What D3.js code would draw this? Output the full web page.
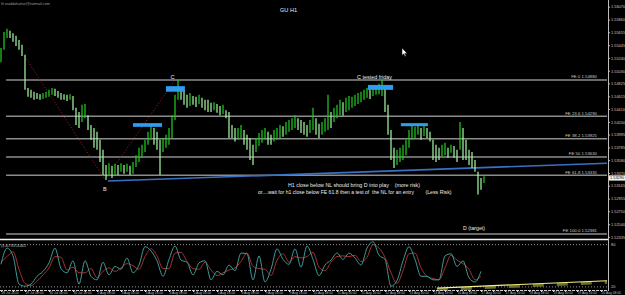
<!DOCTYPE html>
<html>
<head>
<meta charset="utf-8">
<script src="https://cdn.jsdelivr.net/npm/d3@7"></script>
<style>
  html, body { margin: 0; padding: 0; background: #000; }
  svg { display: block; }
  text { font-family: "Liberation Sans", Arial, sans-serif; }
</style>
</head>
<body>
<svg id="chart" width="625" height="295"></svg>
<script>
// GBPUSD H1 bars (high / low), one entry per bar
const highs = [
  1.5540, 1.5566, 1.5571, 1.5568, 1.5564, 1.5560, 1.5553, 1.5545, 1.5529,
  1.5475, 1.5472, 1.5469, 1.5467, 1.5465, 1.5467, 1.5469, 1.5472, 1.5475, 1.5474, 1.5470, 1.5467, 1.5465, 1.5464, 1.5465, 1.5462,
  1.5443, 1.5436, 1.5448, 1.5449, 1.5431, 1.5415, 1.5410, 1.5404, 1.5391, 1.5375, 1.5350,
  1.5353, 1.5349, 1.5352, 1.5350, 1.5353, 1.5350, 1.5352, 1.5349, 1.5355,
  1.5366, 1.5378, 1.5383, 1.5391, 1.5404, 1.5413, 1.5410, 1.5404, 1.5391, 1.5394, 1.5399,
  1.5410, 1.5431, 1.5464, 1.5488, 1.5475, 1.5472,
  1.5464, 1.5467, 1.5462, 1.5461, 1.5464, 1.5459, 1.5456, 1.5456, 1.5451, 1.5452, 1.5449, 1.5446, 1.5448, 1.5439,
  1.5436, 1.5415, 1.5410, 1.5410, 1.5415, 1.5407, 1.5399, 1.5394, 1.5383, 1.5394,
  1.5402, 1.5407, 1.5410, 1.5404, 1.5399, 1.5407, 1.5410, 1.5415, 1.5413, 1.5420, 1.5423,
  1.5426, 1.5431, 1.5426, 1.5423, 1.5420, 1.5415, 1.5423, 1.5443, 1.5426, 1.5417, 1.5420, 1.5426, 1.5464,
  1.5436, 1.5443, 1.5448, 1.5456, 1.5452, 1.5459, 1.5462, 1.5461, 1.5464, 1.5467, 1.5469,
  1.5472, 1.5475, 1.5472, 1.5478, 1.5480, 1.5482, 1.5488, 1.5475,
  1.5448, 1.5407, 1.5378, 1.5375, 1.5378, 1.5383, 1.5391, 1.5407,
  1.5415, 1.5412, 1.5418, 1.5410, 1.5413, 1.5410, 1.5404, 1.5391, 1.5383,
  1.5378, 1.5383, 1.5386, 1.5378, 1.5383, 1.5381, 1.5375, 1.5420, 1.5410, 1.5391, 1.5375, 1.5371, 1.5358, 1.5339, 1.5329, 1.5332
];
const lows = [
  1.5517, 1.5537, 1.5556, 1.5556, 1.5550, 1.5543, 1.5537, 1.5527, 1.5472,
  1.5461, 1.5459, 1.5456, 1.5457, 1.5456, 1.5457, 1.5459, 1.5461, 1.5464, 1.5462, 1.5459, 1.5456, 1.5456, 1.5454, 1.5456, 1.5439,
  1.5415, 1.5410, 1.5420, 1.5426, 1.5407, 1.5391, 1.5378, 1.5375, 1.5355, 1.5334, 1.5326,
  1.5332, 1.5329, 1.5334, 1.5334, 1.5339, 1.5336, 1.5339, 1.5334, 1.5336,
  1.5347, 1.5355, 1.5362, 1.5371, 1.5383, 1.5391, 1.5383, 1.5375, 1.5334, 1.5371, 1.5378,
  1.5383, 1.5394, 1.5423, 1.5456, 1.5456, 1.5448,
  1.5443, 1.5446, 1.5448, 1.5444, 1.5449, 1.5443, 1.5439, 1.5436, 1.5436, 1.5439, 1.5435, 1.5431, 1.5433, 1.5426,
  1.5394, 1.5394, 1.5388, 1.5391, 1.5394, 1.5383, 1.5375, 1.5358, 1.5350, 1.5371,
  1.5381, 1.5386, 1.5391, 1.5383, 1.5383, 1.5388, 1.5391, 1.5394, 1.5396, 1.5399, 1.5404,
  1.5407, 1.5410, 1.5407, 1.5402, 1.5399, 1.5396, 1.5402, 1.5407, 1.5399, 1.5394, 1.5399, 1.5404, 1.5407,
  1.5410, 1.5420, 1.5426, 1.5431, 1.5430, 1.5436, 1.5439, 1.5443, 1.5446, 1.5449, 1.5452,
  1.5456, 1.5459, 1.5457, 1.5462, 1.5464, 1.5465, 1.5462, 1.5436,
  1.5399, 1.5358, 1.5345, 1.5350, 1.5355, 1.5358, 1.5366, 1.5378,
  1.5391, 1.5394, 1.5399, 1.5391, 1.5397, 1.5394, 1.5388, 1.5358, 1.5355,
  1.5358, 1.5363, 1.5366, 1.5362, 1.5370, 1.5362, 1.5355, 1.5375, 1.5358, 1.5358, 1.5350, 1.5345, 1.5339, 1.5302, 1.5310, 1.5321
];

// stochastic, one value every 2 bars
const stochMain = [
  52, 75, 64, 24, 21, 24, 35, 42, 54, 75, 46, 40, 57, 24, 57, 35, 30, 55, 37, 49,
  45, 61, 40, 51, 77, 71, 57, 35, 59, 78, 58, 55, 37, 54, 57, 30, 42, 37, 51, 43,
  68, 67, 30, 64, 27, 45, 74, 59, 52, 74, 48, 78, 59, 36, 51, 58, 68, 59, 68, 61,
  51, 75, 84, 65, 59, 21, 29, 57, 77, 59, 35, 35, 30, 30, 64, 67, 49, 57, 33, 27, 42
];
const stochSignal = [
  55, 63, 70, 45, 25, 22, 28, 37, 47, 63, 62, 44, 48, 40, 40, 46, 33, 42, 47, 42,
  47, 53, 50, 45, 63, 74, 64, 46, 46, 68, 69, 56, 46, 45, 55, 44, 36, 40, 44, 47,
  56, 68, 49, 46, 45, 36, 58, 67, 55, 63, 61, 63, 69, 48, 43, 55, 63, 64, 63, 65,
  56, 62, 80, 75, 62, 40, 25, 43, 67, 68, 47, 35, 32, 30, 47, 65, 58, 53, 45, 30, 35
];
const stochLevels = [80, 20];
const stochLabel = "(3) 40.7923 26.6411";

// fibonacci expansion levels
const fibLabels = ["FE 0", "FE 23.6", "FE 38.2", "FE 50", "FE 61.8", "FE 100.0"];
const fibPrices = [1.54880, 1.54290, 1.53925, 1.53630, 1.53335, 1.52381];

// drawn objects: [barStart, barEnd, priceTop, priceBottom]
const zones = [
  [55, 61.3, 1.5478, 1.5469],
  [44, 53.7, 1.5418, 1.5412],
  [122.3, 130.7, 1.5480, 1.5472],
  [133.3, 142.3, 1.5418, 1.5413]
];
const neckBars = [35.7, 202];
const neckPrices = [1.5324, 1.5353];
const zigBars = [8, 34.7, 58];
const zigPrices = [1.5526, 1.5326, 1.5488];
const trendBars = [145.3, 202];
const trendStoch = [18.4, 28.7];

const priceTicks = ["1.56070", "1.55860", "1.55655", "1.55445", "1.55240", "1.55030", "1.54825",
  "1.54615", "1.54410", "1.54200", "1.53995", "1.53785", "1.53580", "1.53370", "1.53165",
  "1.52955", "1.52750", "1.52540", "1.52335"];
const currentPrice = 1.53290;
const timeLabels = ["28 Jul 2010", "29 Jul 08:00", "30 Jul 00:00", "30 Jul 16:00", "2 Aug 08:00",
  "3 Aug 00:00", "3 Aug 16:00", "4 Aug 08:00", "5 Aug 00:00", "5 Aug 16:00", "6 Aug 08:00",
  "9 Aug 00:00", "9 Aug 16:00", "10 Aug 08:00", "11 Aug 00:00", "11 Aug 16:00", "12 Aug 08:00",
  "13 Aug 00:00", "13 Aug 16:00", "16 Aug 08:00", "17 Aug 00:00", "17 Aug 16:00", "18 Aug 08:00",
  "19 Aug 00:00", "19 Aug 16:00", "20 Aug 08:00"];

const svg = d3.select("#chart");
const x = d3.scaleLinear().domain([0, 202]).range([1, 607]);
const y = d3.scaleLinear().domain([1.54880, 1.52381]).range([80, 234]);
const ys = d3.scaleLinear().domain([0, 100]).range([301, 230.5]);

svg.append("rect").attr("width", 625).attr("height", 295).attr("fill", "#000");

svg.append("defs").append("clipPath").attr("id", "mainclip")
  .append("rect").attr("x", 0).attr("y", 0).attr("width", 608).attr("height", 238);
const main = svg.append("g").attr("clip-path", "url(#mainclip)");

// fib lines
main.selectAll(".fib").data(fibPrices).join("line")
  .attr("x1", x(1.7)).attr("x2", 607)
  .attr("y1", (d) => y(d)).attr("y2", (d) => y(d))
  .attr("stroke", "#8c8c8c").attr("stroke-width", 1.5);
main.selectAll(".fibtxt").data(fibPrices).join("text")
  .attr("x", 597).attr("y", (d) => y(d) - 1.6)
  .attr("text-anchor", "end").attr("font-size", 4.3).attr("fill", "#c8c8c8")
  .text((d, i) => fibLabels[i] + " " + d.toFixed(5));

// zigzag
main.append("path")
  .datum(zigBars.map((b, i) => [b, zigPrices[i]]))
  .attr("d", d3.line().x((d) => x(d[0])).y((d) => y(d[1])))
  .attr("fill", "none").attr("stroke", "#b02020").attr("stroke-width", 1)
  .attr("stroke-dasharray", "1,2");

// neckline
main.append("line")
  .attr("x1", x(neckBars[0])).attr("x2", x(neckBars[1]))
  .attr("y1", y(neckPrices[0])).attr("y2", y(neckPrices[1]))
  .attr("stroke", "#3a6fc4").attr("stroke-width", 1.6);

// bars
main.selectAll(".bar").data(highs).join("line")
  .attr("x1", (d, i) => x(i)).attr("x2", (d, i) => x(i))
  .attr("y1", (d) => y(d)).attr("y2", (d, i) => y(lows[i]))
  .attr("stroke", (d, i) => {
    const mid = (d + lows[i]) / 2;
    const prev = i > 0 ? (highs[i - 1] + lows[i - 1]) / 2 : mid;
    return mid < prev ? "#a4f4a4" : "#1fc81f";
  })
  .attr("stroke-width", 1.25);

// zones
main.selectAll(".zone").data(zones).join("rect")
  .attr("x", (d) => x(d[0])).attr("width", (d) => x(d[1]) - x(d[0]))
  .attr("y", (d) => y(d[2])).attr("height", (d) => y(d[3]) - y(d[2]))
  .attr("fill", "#2f9cf0");

// annotations
const notes = [
  { t: "GU H1", x: 280, y: 12, s: 6, w: 17 },
  { t: "C tested friday", x: 357, y: 78.5, s: 5.5, w: 35 },
  { t: "C", x: 170.5, y: 79, s: 5.5 },
  { t: "B", x: 103, y: 190.5, s: 5.5 },
  { t: "H1 close below NL should bring D into play    (more risk)", x: 288, y: 186.5, s: 5.5, w: 132 },
  { t: "or....wait for h1 close below FE 61.8 then a test of  the NL for an entry", x: 258, y: 194, s: 5.2, w: 156 },
  { t: "(Less Risk)", x: 425.5, y: 194, s: 5.5, w: 26 },
  { t: "D (target)", x: 463, y: 229.5, s: 5.5, w: 22 },
  { t: "fit waddahattar@hotmail.com", x: 1, y: 4.5, s: 4, w: 49, c: "#9a9a9a" }
];
notes.forEach((n) => {
  const t = svg.append("text").attr("x", n.x).attr("y", n.y)
    .attr("font-size", n.s).attr("fill", n.c || "#ececec")
    .style("white-space", "pre").text(n.t);
  if (n.w) t.attr("textLength", n.w).attr("lengthAdjust", "spacingAndGlyphs");
});

// mouse pointer
svg.append("path")
  .attr("d", "M402,48 l0,7.5 l1.7,-1.7 l1.3,2.8 l1.1,-0.5 l-1.3,-2.7 l2.4,0 z")
  .attr("fill", "#fff").attr("stroke", "#000").attr("stroke-width", 0.5);

// panel separator
svg.append("line").attr("x1", 0).attr("x2", 608).attr("y1", 239.5).attr("y2", 239.5)
  .attr("stroke", "#f0f0f0").attr("stroke-width", 1.5);

// oscillator panel
svg.selectAll(".lvl").data(stochLevels).join("line")
  .attr("x1", 0).attr("x2", 607)
  .attr("y1", (d) => ys(d)).attr("y2", (d) => ys(d))
  .attr("stroke", "#bdbdbd").attr("stroke-width", 0.8).attr("stroke-dasharray", "1,2");

const sline = d3.line().x((d, i) => x(i * 2)).y((d) => ys(d)).curve(d3.curveMonotoneX);
svg.append("path").datum(stochSignal).attr("d", sline)
  .attr("fill", "none").attr("stroke", "#a83030").attr("stroke-width", 1);
svg.append("path").datum(stochMain).attr("d", sline)
  .attr("fill", "none").attr("stroke", "#3f9a98").attr("stroke-width", 1);

svg.append("line")
  .attr("x1", x(trendBars[0])).attr("x2", x(trendBars[1]))
  .attr("y1", ys(trendStoch[0]) + 1.6).attr("y2", ys(trendStoch[1]) + 1.6)
  .attr("stroke", "#6e6e22").attr("stroke-width", 3).attr("stroke-dasharray", "11,13");
svg.append("line")
  .attr("x1", x(trendBars[0])).attr("x2", x(trendBars[1]))
  .attr("y1", ys(trendStoch[0])).attr("y2", ys(trendStoch[1]))
  .attr("stroke", "#f2f08a").attr("stroke-width", 1.2);

svg.append("text").attr("x", 1).attr("y", 246.5).attr("font-size", 4)
  .attr("fill", "#cfcfcf").attr("textLength", 25).attr("lengthAdjust", "spacingAndGlyphs")
  .text(stochLabel);

// right axis
svg.append("line").attr("x1", 608.5).attr("x2", 608.5).attr("y1", 0).attr("y2", 291)
  .attr("stroke", "#bdbdbd").attr("stroke-width", 1);
const yAxis = svg.append("g").attr("transform", "translate(608.5,0)")
  .call(d3.axisRight(y).tickValues(priceTicks.map(Number))
    .tickFormat((d, i) => priceTicks[i]).tickSize(1.5).tickPadding(1));
yAxis.select(".domain").remove();
yAxis.selectAll("line").attr("stroke", "#bdbdbd");
yAxis.selectAll("text").attr("font-size", 3.9).attr("fill", "#c8c8c8")
  .attr("font-family", "Liberation Sans, Arial, sans-serif");

svg.selectAll(".slbl").data(stochLevels).join("text")
  .attr("x", 611).attr("y", (d) => ys(d) + 1.5)
  .attr("font-size", 3.9).attr("fill", "#c8c8c8").text((d) => d);

svg.append("rect").attr("x", 609).attr("y", y(currentPrice) - 2.6)
  .attr("width", 16).attr("height", 5.2).attr("fill", "#f4f4f4");
svg.append("text").attr("x", 610).attr("y", y(currentPrice) + 1.4)
  .attr("font-size", 3.9).attr("fill", "#000").text(currentPrice.toFixed(5));

// time axis
svg.append("line").attr("x1", 0).attr("x2", 608).attr("y1", 290.5).attr("y2", 290.5)
  .attr("stroke", "#cfcfcf").attr("stroke-width", 1).attr("stroke-dasharray", "3,1");
const xAxis = svg.append("g").attr("transform", "translate(0,290.5)")
  .call(d3.axisBottom(x).tickValues(d3.range(0, 203, 4))
    .tickFormat((d) => (d % 8 === 0 ? timeLabels[d / 8] : "")).tickSize(1.5).tickPadding(0));
xAxis.select(".domain").remove();
xAxis.selectAll("line").attr("stroke", "#cfcfcf");
xAxis.selectAll("text").attr("font-size", 3.3).attr("fill", "#bdbdbd").attr("dy", "0.55em")
  .attr("text-anchor", "start").attr("font-family", "Liberation Sans, Arial, sans-serif");
</script>
</body>
</html>
